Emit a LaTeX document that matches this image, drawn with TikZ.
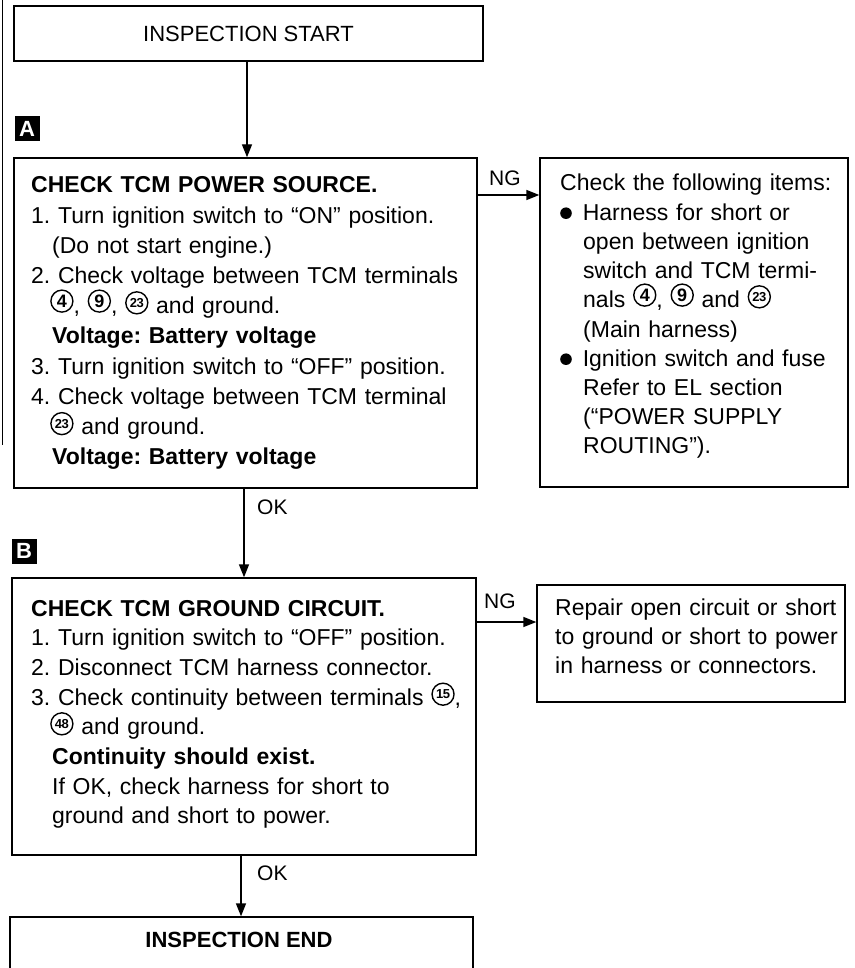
\documentclass[tikz,border=0pt]{standalone}
\usepackage{fontspec}
\setmainfont{Liberation Sans}
\usetikzlibrary{arrows.meta}
\newcommand{\cn}[1]{\tikz[baseline=-6.5pt]\node[circle,draw,line width=1.4pt,inner sep=0pt,minimum size=22pt,font=\bfseries\fontsize{18}{18}\selectfont] (cc) at (0pt,0pt) {#1};}
\newcommand{\cnn}[1]{\tikz[baseline=-6.5pt]\node[circle,draw,line width=1.4pt,inner sep=0pt,minimum size=22pt,font=\bfseries\fontsize{13}{13}\selectfont] (cc) at (0pt,0pt) {\addfontfeature{LetterSpace=-4}#1};}
\newcommand{\bul}{\tikz[baseline=0pt]\fill (5.8pt,7pt) circle[radius=5.8pt];}
\begin{document}
\frenchspacing
\begin{tikzpicture}[x=1pt,y=-1pt,
  box/.style={draw,rectangle,inner sep=0pt,line width=1.4pt},
  body/.style={anchor=base west,inner sep=0pt,align=left,font=\frenchspacing\fontsize{23}{30.2}\selectfont},
  bodyr/.style={body,font=\frenchspacing\fontsize{23}{29.2}\selectfont},
  lbl/.style={anchor=base west,inner sep=0pt,font=\fontsize{21}{21}\selectfont},
  arr/.style={-{Triangle[length=13pt,width=10pt]},line width=1.4pt},
  tag/.style={fill=black,text=white,inner sep=0pt,minimum size=25pt,font=\bfseries\fontsize{22}{22}\selectfont}]
\useasboundingbox (0,0) rectangle (854,968);
\clip (0,0) rectangle (854,968);
% scan edge line
\draw[line width=1pt] (2,0) -- (2,445);
% boxes
\node[box,minimum width=469pt,minimum height=55pt,font=\fontsize{22}{22}\selectfont] (start) at (248.5,33.5) {INSPECTION START};
\node[box,minimum width=463pt,minimum height=330pt] (boxA) at (245.5,323) {};
\node[box,minimum width=308pt,minimum height=329pt] (rA) at (694,322.5) {};
\node[box,minimum width=464pt,minimum height=277pt] (boxB) at (244,716.5) {};
\node[box,minimum width=308pt,minimum height=117pt] (rB) at (691,643.5) {};
\node[box,minimum width=463pt,minimum height=73pt] (finish) at (241.5,953.5) {};
\node[anchor=base,inner sep=0pt,font=\bfseries\fontsize{22}{22}\selectfont] (endtxt) at (239,947) {INSPECTION END};
% tags
\node[tag] (tagA) at (27,129) {A};
\node[tag] (tagB) at (24,551) {B};
% connectors
\coordinate (ax) at (247,0);
\coordinate (bx) at (244,0);
\coordinate (cx) at (241,0);
\coordinate (ny1) at (0,195);
\coordinate (ny2) at (0,622);
\draw[arr] (start.south -| ax) -- (boxA.north -| ax);
\draw[arr] (boxA.south -| bx) -- (boxB.north -| bx);
\draw[arr] (boxB.south -| cx) -- (finish.north -| cx);
\draw[arr] (boxA.east |- ny1) -- (rA.west |- ny1);
\draw[arr] (boxB.east |- ny2) -- (rB.west |- ny2);
% labels
\node[lbl] (ng1) at (489,186) {NG};
\node[lbl] (ok1) at (257,514) {OK};
\node[lbl] (ng2) at (484,608) {NG};
\node[lbl] (ok2) at (257,880) {OK};
% texts
\node[body,text width=460pt] (tA) at (31,193) {\textbf{CHECK TCM POWER SOURCE.}\\
1. Turn ignition switch to “ON” position.\\
\hspace*{21pt}(Do not start engine.)\\
2. Check voltage between TCM terminals\\
\hspace*{19pt}\cn{4}, \cn{9}, \cnn{23} and ground.\\
\hspace*{21pt}\textbf{Voltage: Battery voltage}\\
3. Turn ignition switch to “OFF” position.\\
4. Check voltage between TCM terminal\\
\hspace*{19pt}\cnn{23} and ground.\\
\hspace*{21pt}\textbf{Voltage: Battery voltage}};
\node[bodyr,text width=300pt] (tR) at (560,191) {Check the following items:\\
\bul\hspace*{11pt}Harness for short or\\
\hspace*{23pt}open between ignition\\
\hspace*{23pt}switch and TCM termi-\\
\hspace*{23pt}nals \cn{4}, \cn{9} and \cnn{23}\\
\hspace*{23pt}(Main harness)\\
\bul\hspace*{11pt}Ignition switch and fuse\\
\hspace*{23pt}Refer to EL section\\
\hspace*{23pt}(“POWER SUPPLY\\
\hspace*{23pt}ROUTING”).};
\node[body,text width=460pt,font=\frenchspacing\fontsize{23}{29.7}\selectfont] (tB) at (31,616) {\textbf{CHECK TCM GROUND CIRCUIT.}\\
1. Turn ignition switch to “OFF” position.\\
2. Disconnect TCM harness connector.\\
3. Check continuity between terminals \cnn{15},\\
\hspace*{19pt}\cnn{48} and ground.\\
\hspace*{21pt}\textbf{Continuity should exist.}\\
\hspace*{21pt}If OK, check harness for short to\\
\hspace*{21pt}ground and short to power.};
\node[bodyr,text width=290pt] (tRB) at (555,615) {Repair open circuit or short\\
to ground or short to power\\
in harness or connectors.};
\end{tikzpicture}
\end{document}
